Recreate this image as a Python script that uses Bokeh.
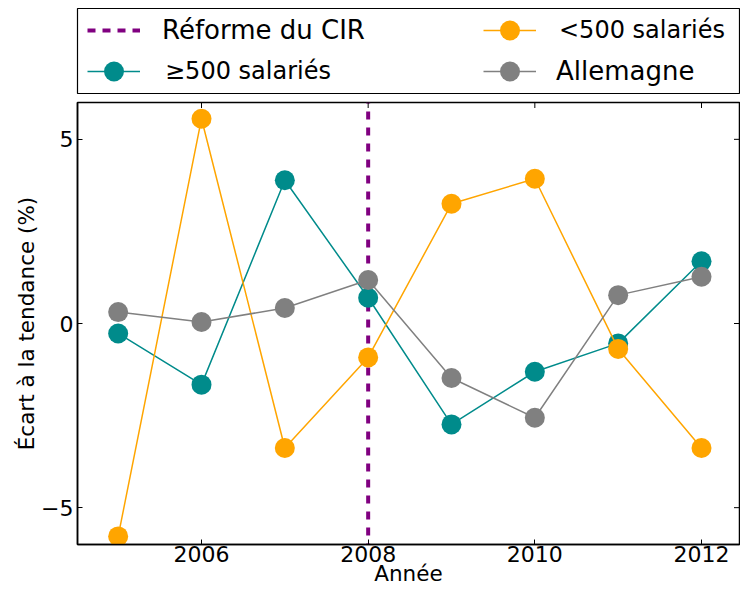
import math
from bokeh.plotting import figure
from bokeh.models import Range1d, FixedTicker, Legend, LegendItem
from bokeh.layouts import column
from bokeh.embed import file_html
from bokeh.resources import INLINE

# ---- data ----
years = [2005, 2006, 2007, 2008, 2009, 2010, 2011, 2012]
large_firms = [-0.27, -1.66, 3.89, 0.70, -2.74, -1.31, -0.54, 1.69]   # >=500 salariés
small_firms = [-5.78, 5.56, -3.38, -0.92, 3.25, 3.93, -0.69, -3.38]   # <500 salariés
germany = [0.31, 0.04, 0.42, 1.18, -1.48, -2.56, 0.77, 1.27]          # Allemagne
reform_year = 2008
x_ticks = [2006, 2008, 2010, 2012]
y_ticks = [-5, 0, 5]
y_tick_labels = ["\u22125", "0", "5"]

label_reform = "Réforme du CIR"
label_large = "\u2265500 salariés"
label_small = "<500 salariés"
label_germany = "Allemagne"

X_MIN, X_MAX = 2004.512, 2012.456
Y_MIN, Y_MAX = -6, 6

TEAL = "#008B8B"
ORANGE = "#FFA500"
GRAY = "#808080"
PURPLE = "#800080"
FONT = "DejaVu Sans"

W = 740
H_LEG = 101
H_MAIN = 491
B_LEFT, B_RIGHT = 77, 1

# ---- main plot ----
p = figure(width=W, height=H_MAIN,
           x_range=Range1d(X_MIN, X_MAX), y_range=Range1d(Y_MIN, Y_MAX),
           output_backend="svg", toolbar_location=None,
           min_border_left=B_LEFT, min_border_right=B_RIGHT,
           min_border_top=1, min_border_bottom=48)
p.xgrid.visible = False
p.ygrid.visible = False
p.outline_line_color = "black"
p.outline_line_width = 1.5
p.outline_line_alpha = 1.0
p.background_fill_color = "white"
p.border_fill_color = "white"


def style_axis(ax):
    ax.major_tick_in = 5
    ax.major_tick_out = 0
    ax.minor_tick_in = 0
    ax.minor_tick_out = 0
    ax.major_tick_line_color = "black"
    ax.major_tick_line_width = 1
    ax.axis_line_color = "black"
    ax.axis_line_width = 1.5
    ax.major_label_text_font = FONT
    ax.major_label_text_color = "black"
    ax.major_label_text_font_size = "22px"
    ax.axis_label_text_font = FONT
    ax.axis_label_text_font_style = "normal"
    ax.axis_label_text_color = "black"
    ax.axis_label_text_font_size = "21.5px"


xax = p.xaxis[0]
xax.ticker = FixedTicker(ticks=x_ticks, minor_ticks=[])
style_axis(xax)
xax.major_label_standoff = 1
xax.axis_label = "Année"
xax.axis_label_standoff = -4

yax = p.yaxis[0]
yax.ticker = FixedTicker(ticks=y_ticks, minor_ticks=[])
yax.major_label_overrides = {t: s for t, s in zip(y_ticks, y_tick_labels)}
style_axis(yax)
yax.major_label_standoff = 4
yax.axis_label = "Écart à la tendance (%)"
yax.axis_label_standoff = -1

# reform line (drawn first so the series sit on top of it), from top to bottom
p.line(x=[reform_year, reform_year], y=[Y_MAX, Y_MIN],
       line_color=PURPLE, line_width=4, line_dash="8 8", line_dash_offset=7)

series = [(large_firms, TEAL), (small_firms, ORANGE), (germany, GRAY)]
for vals, col in series:
    p.line(years, vals, line_color=col, line_width=1.5)
    p.scatter(years, vals, size=20, fill_color=col, line_color=None)

# inward ticks on the top and right spines (half of each dash is clipped by the frame)
p.scatter(x=x_ticks, y=[Y_MAX] * len(x_ticks), marker="dash", angle=math.pi / 2,
          size=11, line_color="black", line_width=1)
p.scatter(x=[X_MAX] * len(y_ticks), y=y_ticks, marker="dash",
          size=11, line_color="black", line_width=1)

# ---- legend panel: its frame is the legend box; its renderers lie outside its ranges ----
lg = figure(width=W, height=H_LEG, x_range=Range1d(0, 1), y_range=Range1d(0, 1),
            output_backend="svg", toolbar_location=None,
            x_axis_location=None, y_axis_location=None,
            min_border_left=B_LEFT, min_border_right=B_RIGHT,
            min_border_top=8, min_border_bottom=8)
lg.xgrid.visible = False
lg.ygrid.visible = False
lg.outline_line_color = "black"
lg.outline_line_width = 1.2
lg.outline_line_alpha = 1.0
lg.background_fill_color = "white"
lg.border_fill_color = "white"

r_reform = lg.line(x=[reform_year, reform_year], y=[Y_MIN, Y_MAX],
                   line_color=PURPLE, line_width=4, line_dash="8 7")
entries = []
for vals, col in series:
    rl = lg.line(years, vals, line_color=col, line_width=1.5)
    rs = lg.scatter(years, vals, size=20, fill_color=col, line_color=None)
    entries.append([rl, rs])


def add_legend(label, renderers, x, y, standoff, size="26px"):
    leg = Legend(items=[LegendItem(label=label, renderers=renderers)],
                 location=(x, y), orientation="vertical",
                 padding=0, margin=0, spacing=0,
                 glyph_width=53, glyph_height=50, label_standoff=standoff,
                 label_text_font=FONT, label_text_font_size=size,
                 label_text_color="black",
                 border_line_color=None, background_fill_alpha=0)
    lg.add_layout(leg, "center")


add_legend(label_reform, [r_reform], 10, 38, 22)
add_legend(label_large, entries[0], 10, -3, 25, "24px")
add_legend(label_small, entries[1], 406, 38, 23, "24px")
add_legend(label_germany, entries[2], 406, -3, 20)

layout = column(lg, p, spacing=0)
open("out.html", "w").write(file_html(layout, INLINE))
